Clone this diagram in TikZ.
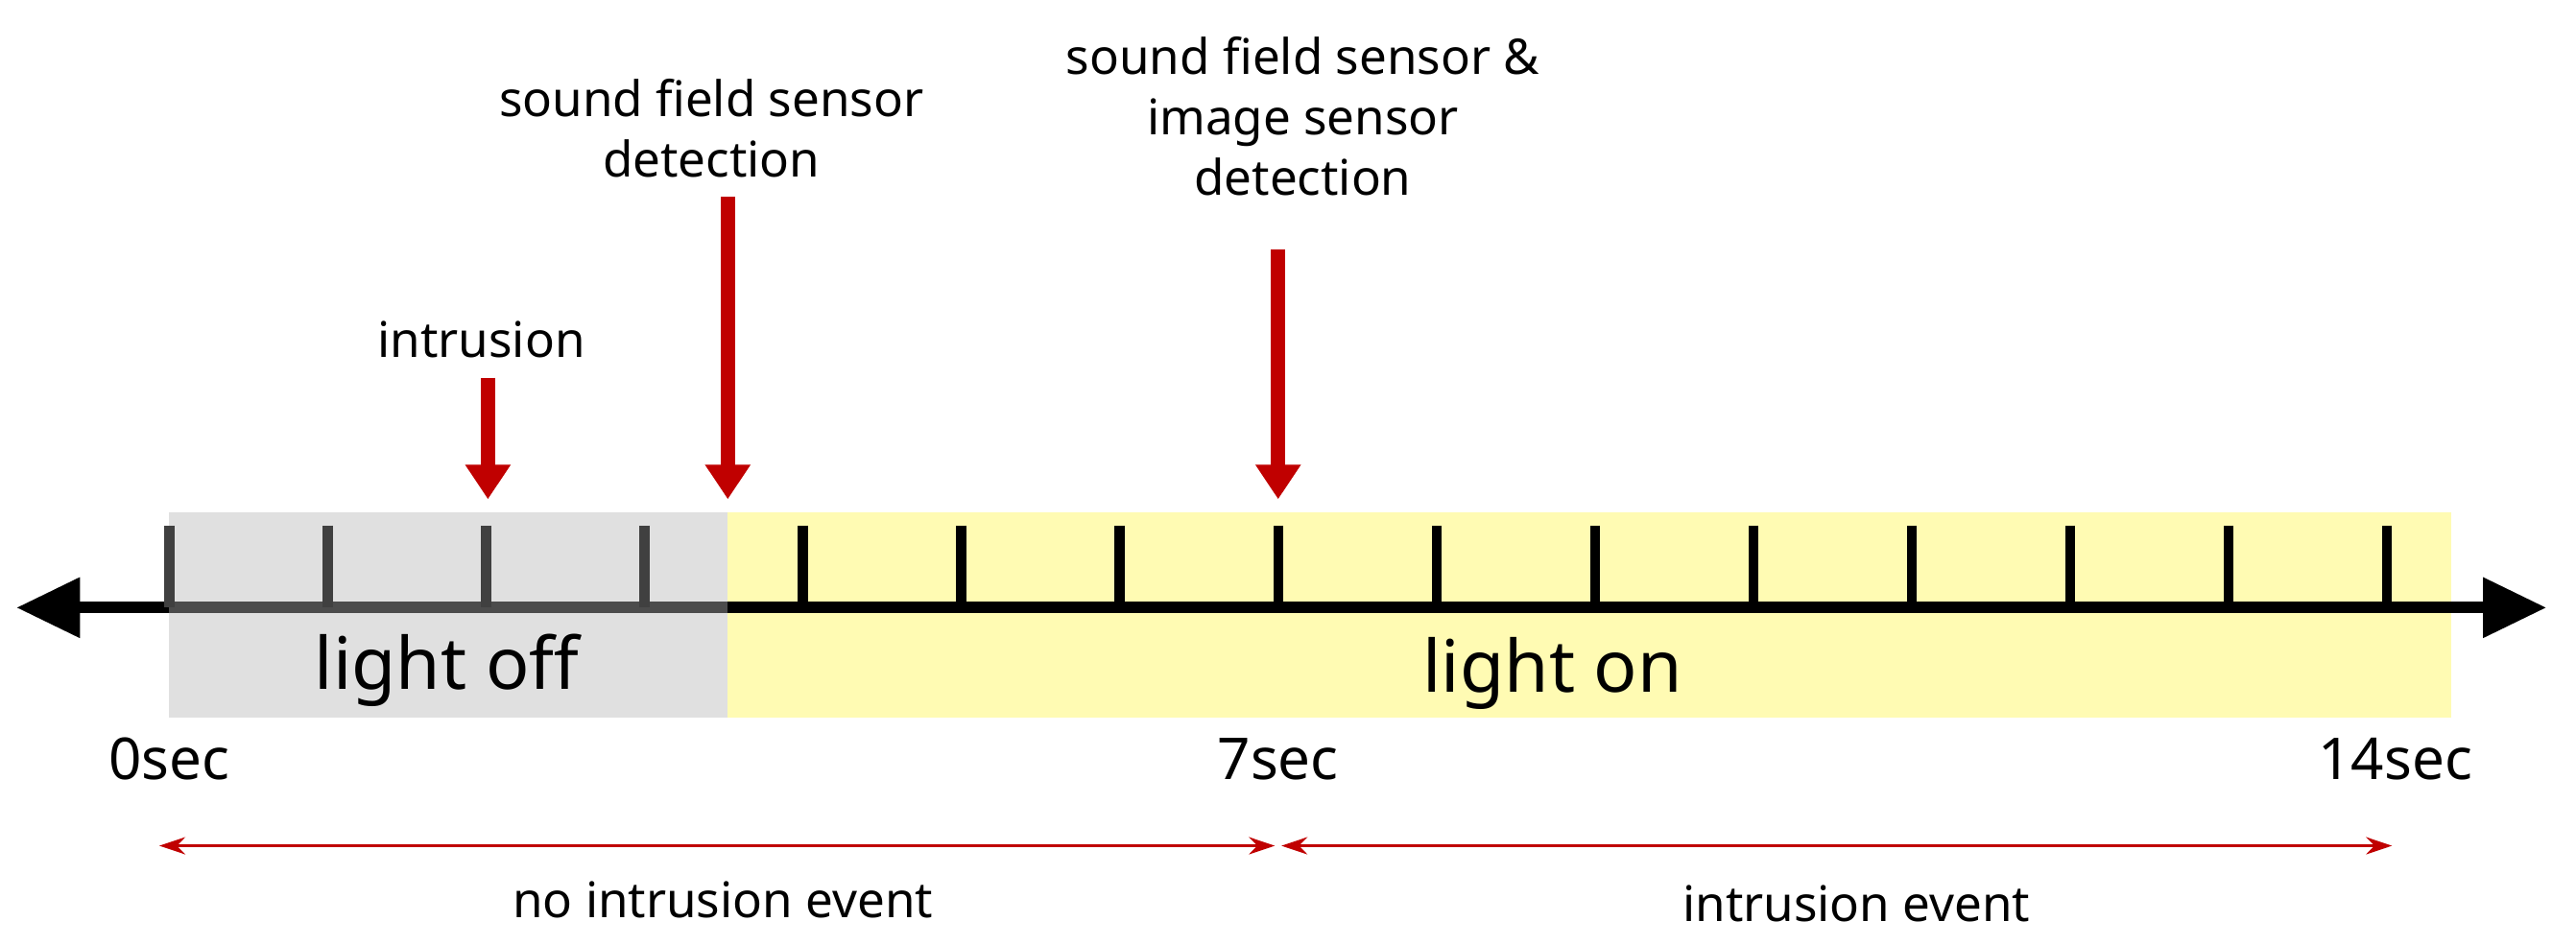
\documentclass[tikz,border=0pt]{standalone}
\usepackage{fontspec}
\setmainfont{Noto Sans}
\usetikzlibrary{arrows.meta}
\definecolor{dred}{HTML}{C00000}
\definecolor{lyel}{HTML}{FFFBB3}
\definecolor{lgray}{HTML}{E0E0E0}
\tikzset{
 lbl/.style={font=\fontsize{17}{21}\selectfont, align=center, inner sep=0},
 big/.style={font=\fontsize{25}{30}\selectfont, inner sep=0},
 sec/.style={font=\bfseries\fontsize{20}{24}\selectfont, inner sep=0},
 redarr/.style={draw=dred, line width=5pt, -{Triangle[length=12pt,width=15pt]}},
 span/.style={draw=dred, line width=0.8pt, {Stealth[length=9pt,width=6pt]}-{Stealth[length=9pt,width=6pt]}},
}
\begin{document}
\begin{tikzpicture}[x=0.02cm,y=-0.02cm]
\useasboundingbox (0,0) rectangle (1568,575);
\fill[lgray] (103,312) rectangle (443,437);
\fill[lyel] (443,312) rectangle (1492,437);
\coordinate (L) at (10,370);
\coordinate (R) at (1550,370);
\draw[line width=4pt, {Triangle[length=22pt,width=20pt]}-{Triangle[length=22pt,width=20pt]}] (L) -- (R);
\draw[line width=4pt, black!70] (103,370) -- (443,370);
\foreach \i in {0,...,14}{
  \pgfmathsetmacro{\xx}{103+96.43*\i}
  \ifnum\i<4 \draw[line width=3.5pt, black!75] (\xx,320) -- (\xx,370);
  \else \draw[line width=3.5pt] (\xx,320) -- (\xx,370); \fi
}
\node[big] (off) at (272,408) {light off};
\node[big] (on) at (945,410) {light on};
\node[sec] (s0) at (103,462) {0sec};
\node[sec] (s7) at (778,462) {7sec};
\node[sec] (s14) at (1458,462) {14sec};
\node[lbl] (t1) at (293,207) {intrusion};
\node[lbl] (t2) at (433,78) {sound field sensor\\detection};
\node[lbl] (t3) at (793,71) {sound field sensor \&\\image sensor\\detection};
\coordinate (a1s) at (297,230); \coordinate (a1e) at (297,304);
\coordinate (a2s) at (443,120); \coordinate (a2e) at (443,304);
\coordinate (a3s) at (778,152); \coordinate (a3e) at (778,304);
\draw[redarr] (a1s) -- (a1e);
\draw[redarr] (a2s) -- (a2e);
\draw[redarr] (a3s) -- (a3e);
\coordinate (b1) at (97,515); \coordinate (b2) at (776,515);
\coordinate (b3) at (780,515); \coordinate (b4) at (1456,515);
\draw[span] (b1) -- (b2);
\draw[span] (b3) -- (b4);
\node[lbl] (n1) at (440,548) {no intrusion event};
\node[lbl] (n2) at (1130,550) {intrusion event};
\end{tikzpicture}
\end{document}
